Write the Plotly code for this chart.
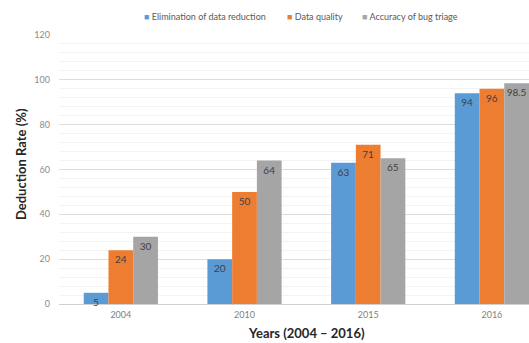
import plotly.graph_objects as go

# Chart data
years = ["2004", "2010", "2015", "2016"]
elimination = [5, 20, 63, 94]
data_quality = [24, 50, 71, 96]
bug_triage = [30, 64, 65, 98.5]

series_names = ["Elimination of data reduction", "Data quality", "Accuracy of bug triage"]
series_values = [elimination, data_quality, bug_triage]
colors = ["#5B9BD5", "#ED7D31", "#A5A5A5"]

fig = go.Figure()
for name, vals, col in zip(series_names, series_values, colors):
    fig.add_trace(go.Bar(
        x=years, y=vals, name=name,
        marker=dict(color=col, line=dict(width=0)),
        text=[f"{v:g}" for v in vals],
        textposition="inside",
        insidetextanchor="end",
        textangle=0,
        textfont=dict(family="Lato, sans-serif", size=10, color="#404040"),
        cliponaxis=False,
        showlegend=False,
    ))

# Legend row drawn as coloured squares followed by labels
legend_x = [142, 285, 360]
for name, col, lx in zip(series_names, colors, legend_x):
    fig.add_annotation(
        xref="paper", yref="paper",
        x=(lx - 59) / 470, y=1 + (35 - 16) / 269,
        xanchor="left", yanchor="middle", showarrow=False,
        text=f"<span style='color:{col}'>■</span> {name}",
        font=dict(family="Lato, sans-serif", size=9, color="#595959"),
    )

# Axis titles
fig.add_annotation(
    xref="paper", yref="paper", x=(306 - 59) / 470, y=-(333 - 304) / 269,
    xanchor="center", yanchor="middle", showarrow=False,
    text="<b>Years (2004 – 2016)</b>",
    font=dict(family="Lato, sans-serif", size=13, color="#262626"),
)
fig.add_annotation(
    xref="paper", yref="paper", x=-(59 - 21) / 470, y=(304 - 164) / 269,
    xanchor="center", yanchor="middle", showarrow=False, textangle=-90,
    text="<b>Deduction Rate (%)</b>",
    font=dict(family="Lato, sans-serif", size=13, color="#262626"),
)

fig.update_layout(
    width=529, height=343,
    margin=dict(l=59, r=0, t=35, b=39),
    paper_bgcolor="white", plot_bgcolor="white",
    barmode="group", bargap=0.4, bargroupgap=0,
    uniformtext=dict(minsize=10, mode="show"),
    xaxis=dict(
        range=[-0.5, 3.3], showgrid=False, ticks="", zeroline=False,
        showline=False,
        tickfont=dict(family="Lato, sans-serif", size=9, color="#7F7F7F"),
        ticklabelstandoff=4,
    ),
    yaxis=dict(
        range=[0, 120], dtick=20, tick0=0, ticks="",
        showgrid=True, gridcolor="#DDDDDD", gridwidth=1,
        zeroline=True, zerolinecolor="#D0D0D0", zerolinewidth=1,
        minor=dict(dtick=4, showgrid=True, gridcolor="#F3F3F3", gridwidth=1),
        tickfont=dict(family="Lato, sans-serif", size=9, color="#8C8C8C"),
        ticklabelstandoff=8,
    ),
)

fig.write_html("out.html")
